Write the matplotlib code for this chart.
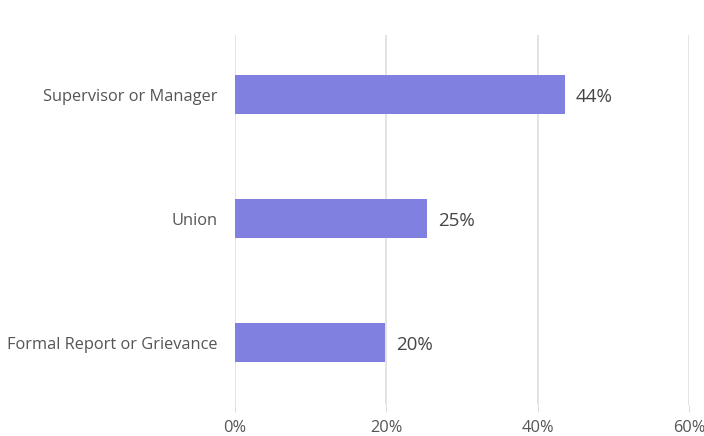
import matplotlib
matplotlib.use("Agg")
import matplotlib.pyplot as plt
from matplotlib.ticker import FuncFormatter

categories = ["Supervisor or Manager", "Union", "Formal Report or Grievance"]
values = [43.6, 25.4, 19.8]
value_labels = ["44%", "25%", "20%"]
x_ticks = [0, 20, 40, 60]

plt.rcParams['font.family'] = ['Open Sans', 'DejaVu Sans']

fig = plt.figure(figsize=(7.04, 4.36), dpi=100)
ax = fig.add_axes([0.3338, 0.0711, 0.6449, 0.8486])

ypos = list(range(len(categories)))
ax.barh(ypos, values, height=0.315, color="#8080e0", zorder=3)
for y, v, lab in zip(ypos, values, value_labels):
    ax.text(v + 1.45, y + 0.02, lab, va="center", ha="left", fontsize=13.5, color="#444444")

ax.set_yticks(ypos)
ax.set_yticklabels(categories, fontsize=11.8, color="#555555")
ax.set_ylim(2.5, -0.48)
ax.set_xlim(0, 60)
ax.set_xticks(x_ticks)
ax.xaxis.set_major_formatter(FuncFormatter(lambda v, p: f"{v:.0f}%"))
ax.tick_params(axis="x", length=5, color="#dddddd", labelsize=11.8, labelcolor="#555555", pad=6)
ax.tick_params(axis="y", length=0, pad=12.5)
ax.grid(axis="x", color="#dddddd", linewidth=1.1, zorder=0)
for s in ax.spines.values():
    s.set_visible(False)

fig.savefig("out.png", dpi=100)
